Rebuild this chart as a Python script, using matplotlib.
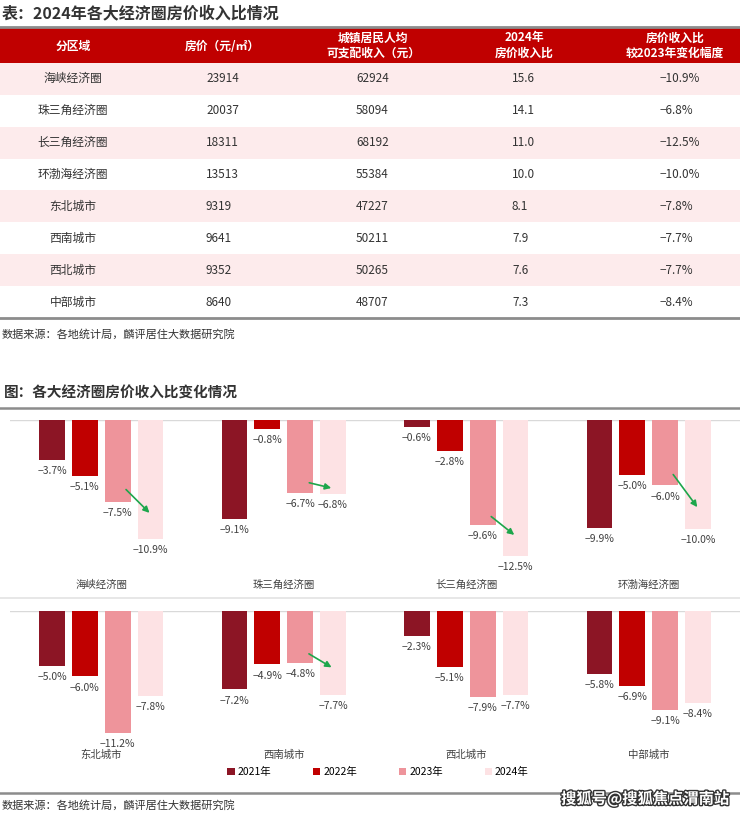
import matplotlib
matplotlib.use("Agg")
import matplotlib.pyplot as plt
import matplotlib.patheffects as pe
from matplotlib.patches import Rectangle
from matplotlib.lines import Line2D
import numpy as np

plt.rcParams['font.family'] = ['Noto Sans CJK SC', 'DejaVu Sans']

# table data
regions = ['海峡经济圈', '珠三角经济圈', '长三角经济圈', '环渤海经济圈',
           '东北城市', '西南城市', '西北城市', '中部城市']
prices = [23914, 20037, 18311, 13513, 9319, 9641, 9352, 8640]
incomes = [62924, 58094, 68192, 55384, 47227, 50211, 50265, 48707]
ratios = [15.6, 14.1, 11.0, 10.0, 8.1, 7.9, 7.6, 7.3]
changes = [-10.9, -6.8, -12.5, -10.0, -7.8, -7.7, -7.7, -8.4]

# yearly change of the ratio per region
years = ['2021年', '2022年', '2023年', '2024年']
chg_2021 = [-3.7, -9.1, -0.6, -9.9, -5.0, -7.2, -2.3, -5.8]
chg_2022 = [-5.1, -0.8, -2.8, -5.0, -6.0, -4.9, -5.1, -6.9]
chg_2023 = [-7.5, -6.7, -9.6, -6.0, -11.2, -4.8, -7.9, -9.1]
chg_2024 = changes

colors = ['#8C1525', '#C00000', '#EE949B', '#FDE2E4']
W, H = 740, 813


def fx(px):
    return px / W


def fy(py):
    return 1 - py / H


fig = plt.figure(figsize=(W / 100, H / 100), dpi=100)

# ---- table ----
fig.text(fx(2), fy(13), '表：2024年各大经济圈房价收入比情况', fontsize=11.5,
         fontweight='bold', color='#333333', va='center', ha='left')
fig.add_artist(Line2D([0, 1], [fy(27), fy(27)], color='#8c8c8c', lw=2))
fig.add_artist(Rectangle((0, fy(63)), 1, fy(28) - fy(63), color='#C00000', lw=0))

headers = [['分区域'], ['房价（元/㎡）'], ['城镇居民人均', '可支配收入（元）'],
           ['2024年', '房价收入比'], ['房价收入比', '较2023年变化幅度']]
hx = [73, 222, 373, 524, 675]
for x, lines in zip(hx, headers):
    if len(lines) == 1:
        fig.text(fx(x), fy(46), lines[0], color='white', fontsize=8.5,
                 fontweight='bold', ha='center', va='center')
    else:
        for k, t in enumerate(lines):
            fig.text(fx(x), fy(38 + 15 * k), t, color='white', fontsize=8.5,
                     fontweight='bold', ha='center', va='center')

row_h = (318 - 63) / len(regions)
for r in range(len(regions)):
    top = 63 + r * row_h
    if r % 2 == 0:
        fig.add_artist(Rectangle((0, fy(top + row_h)), 1, row_h / H,
                                 color='#FDEBEC', lw=0))
    yc = fy(top + row_h / 2)
    fig.text(fx(73), yc, regions[r], fontsize=8.5, ha='center', va='center', color='#333333')
    fig.text(fx(206), yc, str(prices[r]), fontsize=8.5, va='center', color='#333333')
    fig.text(fx(356), yc, str(incomes[r]), fontsize=8.5, va='center', color='#333333')
    fig.text(fx(512), yc, f'{ratios[r]:.1f}', fontsize=8.5, va='center', color='#333333')
    fig.text(fx(660), yc, f'{changes[r]:.1f}%'.replace('-', '−'), fontsize=8.5,
             va='center', color='#333333')
fig.add_artist(Line2D([0, 1], [fy(318), fy(318)], color='#8c8c8c', lw=2))
fig.text(fx(2), fy(334), '数据来源：各地统计局，麟评居住大数据研究院', fontsize=8,
         va='center', color='#333333')

# ---- bar charts ----
fig.text(fx(4), fy(393), '图：各大经济圈房价收入比变化情况', fontsize=10.5,
         fontweight='bold', va='center', color='#333333')
fig.add_artist(Line2D([0, 1], [fy(408), fy(408)], color='#8c8c8c', lw=1.8))
fig.add_artist(Line2D([0, 1], [fy(598), fy(598)], color='#e3e3e3', lw=1.2))

series = [chg_2021, chg_2022, chg_2023, chg_2024]
offsets = [-0.27, -0.09, 0.09, 0.27]
scale = 10.9  # px per percentage point

# arrows: region index, lift of start above 2023 bar, lift of end above 2024 bar
arrows = [(0, 1.3, 2.2), (1, 1.0, 0.5), (2, 0.9, 1.8), (3, 1.2, 1.8), (5, 1.0, 2.4)]

panels = [(0, 420, 578), (4, 611, 748)]
handles = None
for start, ztop, zbot in panels:
    ax = fig.add_axes([fx(10), fy(zbot), fx(740 - 10), (zbot - ztop) / H])
    idx = np.arange(4)
    hs = []
    for s, off, c, lab in zip(series, offsets, colors, years):
        vals = s[start:start + 4]
        b = ax.bar(idx + off, vals, width=0.142, color=c, label=lab, zorder=2)
        hs.append(b)
        for x, v in zip(idx + off, vals):
            ax.annotate(f'{v:.1f}%'.replace('-', '−'), (x, v), xytext=(0, -8),
                        textcoords='offset points', ha='center', va='center',
                        fontsize=7.5, color='#404040')
    handles = hs
    for g, l1, l2 in arrows:
        if start <= g < start + 4:
            i = g - start
            ax.annotate('', xy=(i + 0.275, chg_2024[g] + l2),
                        xytext=(i + 0.125, chg_2023[g] + l1),
                        arrowprops=dict(arrowstyle='-|>', color='#1DA64B', lw=1.2,
                                        mutation_scale=9), zorder=3)
    ax.axhline(0, color='#d9d9d9', lw=1, zorder=1)
    ax.set_xlim(-0.5, 3.5)
    ax.set_ylim(-(zbot - ztop) / scale, 0)
    ax.set_xticks(idx)
    ax.set_xticklabels(regions[start:start + 4], fontsize=7.5, color='#404040')
    ax.tick_params(length=0, pad=1)
    ax.set_yticks([])
    for sp in ax.spines.values():
        sp.set_visible(False)
    ax.patch.set_alpha(0)

fig.legend(handles=handles, labels=years, loc='center', ncol=4,
           bbox_to_anchor=(fx(378), fy(772)), frameon=False, fontsize=7.5,
           handlelength=0.7, handleheight=0.7, handletextpad=0.3,
           columnspacing=4.0)

fig.add_artist(Line2D([0, 1], [fy(793), fy(793)], color='#8c8c8c', lw=1.8))
fig.text(fx(2), fy(805), '数据来源：各地统计局，麟评居住大数据研究院', fontsize=8,
         va='center', color='#333333')
fig.text(fx(645), fy(799), '搜狐号@搜狐焦点渭南站', fontsize=11, fontweight='bold',
         color='white', ha='center', va='center',
         path_effects=[pe.withStroke(linewidth=2, foreground='#333333')])

fig.savefig('out.png', dpi=100)
